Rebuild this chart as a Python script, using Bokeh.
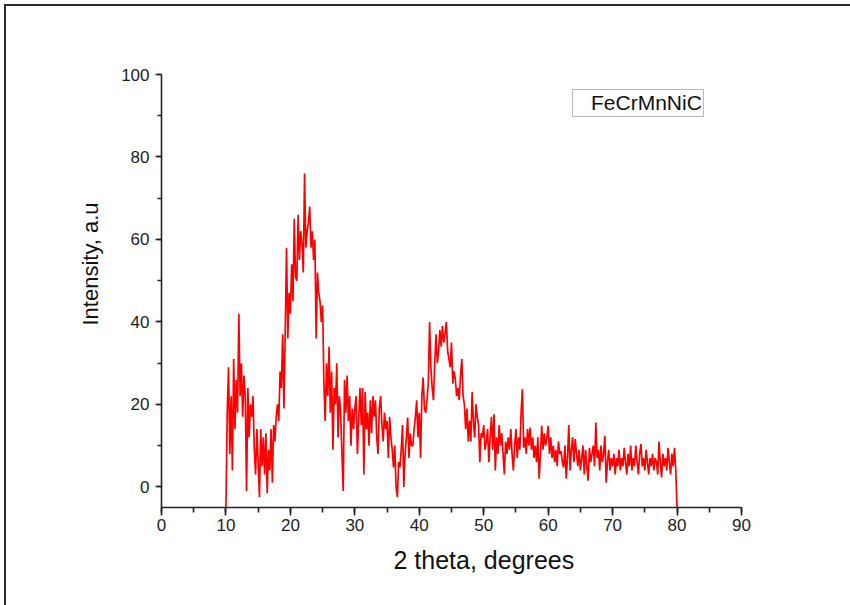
import numpy as np
from bokeh.plotting import figure
from bokeh.models import Range1d, SingleIntervalTicker, Legend, LegendItem, ColumnDataSource, Title
from bokeh.embed import file_html
from bokeh.resources import INLINE

# 2-theta grid (degrees), 0.2 degree step from 10 to 80
theta_start = 10.0
theta_step = 0.2

# Intensity (a.u.), five samples per degree
intensity = [
    -5, 18, 29, 8, 22,        # 10
    4, 31, 14, 26, 18,        # 11
    42, 22, 30, 17, 27,       # 12
    22, -1, 24, 12, 20,       # 13
    17, 22, 9, 3, 14,         # 14
    6, -2.5, 14, 5, 12,       # 15
    3, 13, -1.5, 9, 4,        # 16
    14, 1, 15, 11, 17,        # 17
    20, 16, 28, 24, 37,       # 18
    19, 38, 58, 36, 47,       # 19
    42, 54, 45, 65, 51,       # 20
    50, 66, 55, 62, 59,       # 21
    52, 76, 58, 62, 64,       # 22
    68, 58, 62, 55, 60,       # 23
    36, 52, 47, 45, 40,       # 24
    44, 25, 16, 30, 22,       # 25
    34, 18, 28, 9, 24,        # 26
    20, 30, 12, 22, 18,       # 27
    8, -1, 26, 18, 27,        # 28
    16, 22, 10, 19, 14,       # 29
    19, 22, 8, 16, 24,        # 30
    15, 24, 3, 23, 14,        # 31
    18, 10, 21, 13, 22,       # 32
    17, 21, 12, 8, 19,        # 33
    22, 15, 11, 18, 14,       # 34
    16, 7, 17, 12, 9,         # 35
    4.7, 10, 0, -2.5, 6,      # 36
    4.7, 9, 15, 0, 8,         # 37
    12, 16.8, 7, 13, 10,      # 38
    10, 14, 17, 21, 12,       # 39
    18, 7, 22, 26.5, 19,      # 40
    18, 21, 25, 40, 29,       # 41
    24, 21, 30, 37, 30,       # 42
    33, 38, 34, 39, 35,       # 43
    37, 40, 33, 31, 29,       # 44
    35, 25, 28, 26, 22,       # 45
    24, 21, 27, 31, 22,       # 46
    20, 14, 19, 11, 16,       # 47
    11, 23, 16, 12, 20,       # 48
    17, 15, 6, 13, 12,        # 49
    15, 9, 11, 14, 6,         # 50
    12, 17, 9, 17.6, 4,       # 51
    12, 8, 15, 10, 13,        # 52
    8, 3, 11, 8, 12,          # 53
    9, 14, 8, 4, 10,          # 54
    14, 7, 12, 9, 18,         # 55
    23.7, 9.5, 12, 8, 14,     # 56
    10, 14.4, 9, 12, 7,       # 57
    10, 6, 12, 2, 8,          # 58
    14.8, 9, 13, 10, 12,      # 59
    14.8, 8, 12, 7, 10,       # 60
    6, 9, 5, 11, 8,           # 61
    8.7, 6, 4.7, 10, 2,       # 62
    7, 15, 4, 9, 12,          # 63
    6, 11.6, 8, 5, 9,         # 64
    4, 7, 10, 3, 9,           # 65
    5, 1.5, 9.5, 6, 8,        # 66
    10, 5, 15.6, 7, 9,        # 67
    4, 10, 6, 8, 12.4,        # 68
    1, 6, 9, 4, 7,            # 69
    5, 8, 3, 7, 5,            # 70
    9, 4, 7, 5, 9.5,          # 71
    6, 3, 8, 5, 10,           # 72
    4, 7, 5, 10, 6,           # 73
    3, 8, 10.4, 5, 7,         # 74
    4, 9, 6, 3, 7,            # 75
    5, 8, 4, 7, 6,            # 76
    3, 11, 6, 2.3, 8,         # 77
    5, 7, 4, 9.5, 6,          # 78
    3, 8, 5, 9.5, 4,          # 79
    -5,                       # 80
]

two_theta = [round(theta_start + i * theta_step, 1) for i in range(len(intensity))]

series_label = "FeCrMnNiC"
x_label = "2 theta, degrees"
y_label = "Intensity, a.u"

FONT = "Liberation Sans"

p = figure(
    width=850, height=605,
    x_range=Range1d(0, 90), y_range=Range1d(-5, 100),
    output_backend="svg", toolbar_location=None,
    min_border_left=161, min_border_right=109,
    min_border_top=74, min_border_bottom=98,
)
p.border_fill_color = None
p.background_fill_color = None
p.outline_line_color = None
p.xgrid.visible = False
p.ygrid.visible = False
p.styles = {
    "background": "linear-gradient(#2a2a2a,#2a2a2a) 4px 4px / 2px calc(100% - 4px) no-repeat, "
                  "linear-gradient(#2a2a2a,#2a2a2a) 4px 4px / calc(100% - 4px) 2px no-repeat, #ffffff"
}

src = ColumnDataSource(data=dict(x=two_theta, y=intensity))
p.line("x", "y", source=src, line_color="#ff0000", line_width=1.7)

dummy = p.line(x=[], y=[], line_alpha=0)
legend = Legend(
    items=[LegendItem(label=series_label, renderers=[dummy])],
    location=(411, 390),
    label_text_font=FONT, label_text_font_size="21px", label_text_color="#111111",
    border_line_color="#777777", border_line_width=1.5,
    background_fill_color="#ffffff", background_fill_alpha=1,
    glyph_width=12, glyph_height=19, label_height=19,
    padding=1, spacing=0, margin=0, label_standoff=5,
)
p.add_layout(legend)

for ax in (p.xaxis[0], p.yaxis[0]):
    ax.axis_line_color = "#222222"
    ax.axis_line_width = 1.6
    ax.major_tick_line_color = "#222222"
    ax.major_tick_line_width = 1.6
    ax.minor_tick_line_color = "#222222"
    ax.minor_tick_line_width = 1.6
    ax.major_tick_in = 0
    ax.minor_tick_in = 0
    ax.major_label_text_font = FONT
    ax.major_label_text_font_size = "17px"
    ax.major_label_text_color = "#222222"

p.xaxis.ticker = SingleIntervalTicker(interval=10, num_minor_ticks=2)
p.yaxis.ticker = SingleIntervalTicker(interval=20, num_minor_ticks=2)
p.xaxis.major_tick_out = 8
p.xaxis.minor_tick_out = 5
p.yaxis.major_tick_out = 6
p.yaxis.minor_tick_out = 4
p.xaxis.major_label_standoff = 3
p.yaxis.major_label_standoff = 6

# Axis titles, offset along the axes as in the reference
p.add_layout(Title(text=x_label, align="left", offset=232, standoff=21,
                   text_font=FONT, text_font_size="25px", text_font_style="normal",
                   text_color="#111111"), "below")
p.add_layout(Title(text=y_label, align="left", offset=182, standoff=31,
                   text_font=FONT, text_font_size="22px", text_font_style="normal",
                   text_color="#111111"), "left")

open("out.html", "w").write(file_html(p, INLINE))
